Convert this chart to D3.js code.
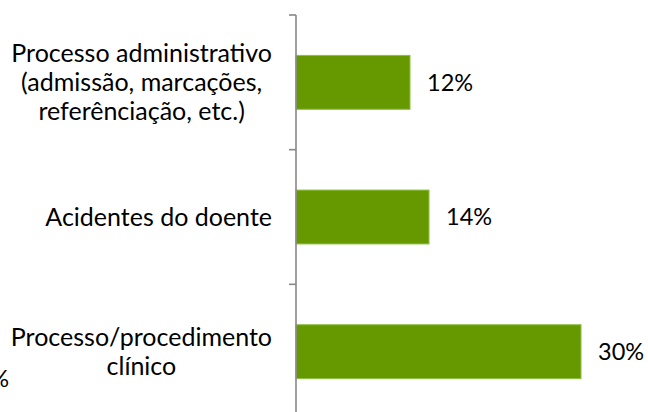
<!DOCTYPE html>
<html>
<head>
<meta charset="utf-8">
<script src="https://cdn.jsdelivr.net/npm/d3@7"></script>
<style>
  html, body { margin: 0; padding: 0; background: #fff; }
  svg { display: block; font-family: Lato, "Open Sans", sans-serif; }
</style>
</head>
<body>
<script>
// categories, top to bottom, one array of lines per label
const categories = [
  ["Processo administrativo", "(admissão, marcações,", "referênciação, etc.)"],
  ["Acidentes do doente"],
  ["Processo/procedimento", "clínico"]
];
const values = [12, 14, 30];
const valueLabels = ["12%", "14%", "30%"];

const width = 648, height = 412;
const axisX = 296;

const svg = d3.select("body").append("svg")
  .attr("width", width).attr("height", height);

const x = d3.scaleLinear().domain([0, 37]).range([axisX, axisX + 37 * 9.5]);
const y = d3.scaleBand()
  .domain(d3.range(categories.length))
  .range([15, 419])
  .paddingInner(0.6).paddingOuter(0.3);

// bars
svg.selectAll("rect.bar")
  .data(values)
  .join("rect")
  .attr("class", "bar")
  .attr("x", x(0))
  .attr("y", (d, i) => y(i))
  .attr("width", d => x(d) - x(0))
  .attr("height", y.bandwidth())
  .attr("fill", "#669900")
  .attr("stroke", "#8cbf40")
  .attr("stroke-width", 1);

// axis with ticks between categories
const tickY = d3.range(categories.length + 1).map(i => 15 + i * y.step());
svg.append("line")
  .attr("x1", axisX).attr("x2", axisX)
  .attr("y1", 15).attr("y2", height)
  .attr("stroke", "#888").attr("stroke-width", 1.6);
svg.selectAll("line.tick")
  .data(tickY)
  .join("line")
  .attr("class", "tick")
  .attr("x1", axisX - 7).attr("x2", axisX)
  .attr("y1", d => d).attr("y2", d => d)
  .attr("stroke", "#888").attr("stroke-width", 1.6);

// category labels: centred block, right edge near the axis
const lineH = 29;
categories.forEach((lines, i) => {
  const cy = y(i) + y.bandwidth() / 2;
  const t = svg.append("text")
    .attr("font-size", 25)
    .attr("fill", "#000")
    .attr("text-anchor", "middle");
  lines.forEach((ln, j) => {
    t.append("tspan")
      .attr("x", 0)
      .attr("y", cy + (j - (lines.length - 1) / 2) * lineH)
      .attr("dy", "0.35em")
      .text(ln);
  });
  const bb = t.node().getBBox();
  t.attr("transform", `translate(${272 - bb.width / 2},0)`);
});

// value labels
svg.selectAll("text.val")
  .data(values)
  .join("text")
  .attr("class", "val")
  .attr("x", d => x(d) + 17)
  .attr("y", (d, i) => y(i) + y.bandwidth() / 2)
  .attr("dy", "0.35em")
  .attr("font-size", 23.5)
  .text((d, i) => valueLabels[i]);

// clipped fragment of a label at the left edge
svg.append("text")
  .attr("x", 9).attr("y", 379)
  .attr("dy", "0.35em")
  .attr("text-anchor", "end")
  .attr("font-size", 23.5)
  .text("0%");
</script>
</body>
</html>
